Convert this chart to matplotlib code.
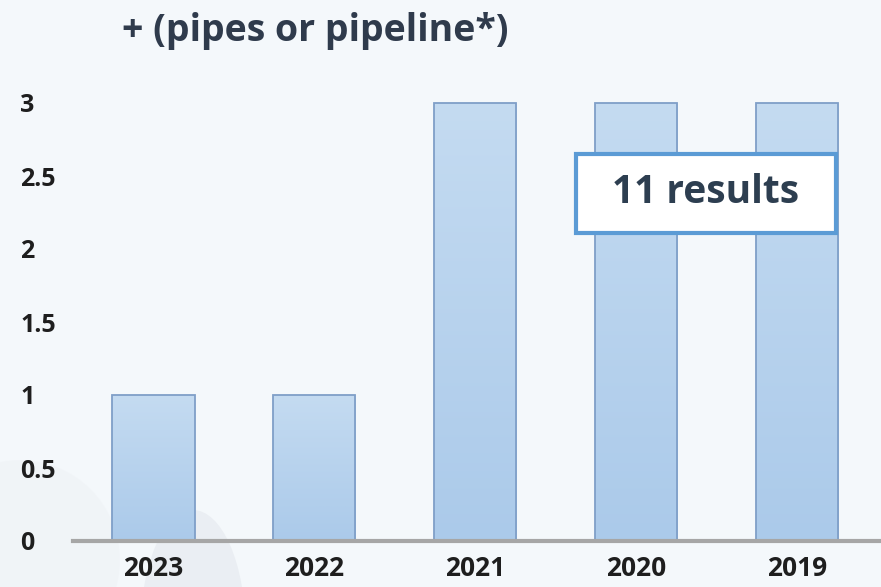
import numpy as np
import matplotlib
matplotlib.use("Agg")
import matplotlib.pyplot as plt
from matplotlib.patches import Rectangle, Ellipse
from matplotlib.colors import LinearSegmentedColormap
from matplotlib.transforms import offset_copy

years = ["2023", "2022", "2021", "2020", "2019"]
counts = [1, 1, 3, 3, 3]
y_ticks = [0, 0.5, 1, 1.5, 2, 2.5, 3]
y_tick_labels = ["0", "0.5", "1", "1.5", "2", "2.5", "3"]
title_text = "+ (pipes or pipeline*)"
badge_text = "11 results"

plt.rcParams["font.family"] = ["Open Sans", "DejaVu Sans"]

W, H = 881, 587
fig = plt.figure(figsize=(W / 100, H / 100), dpi=100)
bg = "#f4f8fb"
fig.patch.set_facecolor(bg)

# faint watermark shape in the lower left
wm = fig.add_axes([0, 0, 1, 1], zorder=0)
wm.set_xlim(0, W)
wm.set_ylim(H, 0)
wm.axis("off")
wm.add_patch(Ellipse((193, 630), 105, 240, facecolor="#e8ecf1", edgecolor="none", alpha=0.8))
wm.add_patch(Ellipse((20, 560), 200, 200, facecolor="#eef1f5", edgecolor="none", alpha=0.5))

ax = fig.add_axes([73 / W, (H - 541) / H, (W - 73) / W, 438 / H], zorder=1)
ax.set_facecolor("none")
x = np.arange(len(years))
bars = ax.bar(x, counts, width=0.51, color="#b7d3ee", edgecolor="#7f9fc8",
              linewidth=1.3, zorder=2, clip_on=False)

# vertical gradient inside each bar
cmap = LinearSegmentedColormap.from_list("barfill", ["#abcaea", "#c4dbf1"])
grad = np.linspace(0, 1, 256).reshape(-1, 1)
for b in bars:
    x0, y0 = b.get_x(), b.get_y()
    w, h = b.get_width(), b.get_height()
    im = ax.imshow(grad, cmap=cmap, origin="lower", aspect="auto",
                   extent=(x0, x0 + w, y0, y0 + h), zorder=2.5, clip_on=False)
    im.set_clip_path(b)
    b.set_facecolor("none")
    b.set_zorder(3)

ax.set_xlim(-0.5, 4.52)
ax.set_ylim(0, 3)
for s in ["top", "right", "left"]:
    ax.spines[s].set_visible(False)
ax.spines["bottom"].set_color("#a6a6a6")
ax.spines["bottom"].set_linewidth(3)
ax.spines["bottom"].set_zorder(4)

ax.set_xticks(x)
ax.set_xticklabels(years, fontsize=19, fontweight="bold", color="#1e1e1e")
ax.tick_params(axis="x", length=0, pad=10)
ax.set_yticks(y_ticks)
ax.set_yticklabels([])
ax.tick_params(axis="y", length=0)
label_tr = offset_copy(ax.get_yaxis_transform(), fig=fig, x=-53, y=-3, units="dots")
for v, lab in zip(y_ticks, y_tick_labels):
    ax.text(0, v, lab, ha="left", va="center", fontsize=18, fontweight="bold",
            color="#1e1e1e", transform=label_tr, clip_on=False)

fig.text(122 / W, 1 - 31 / H, title_text, ha="left", va="center", fontsize=27,
         fontweight="bold", color="#2f3b4c")

# result-count badge
fig.patches.append(Rectangle((576 / W, 1 - 233 / H), 260 / W, 79 / H,
                             transform=fig.transFigure, facecolor="white",
                             edgecolor="#5b9bd5", linewidth=3, zorder=10))
fig.text(706 / W, 1 - 193 / H, badge_text, ha="center", va="center", fontsize=28,
         fontweight="bold", color="#2d3e50", zorder=11)

fig.savefig("out.png", dpi=100, facecolor=bg)
